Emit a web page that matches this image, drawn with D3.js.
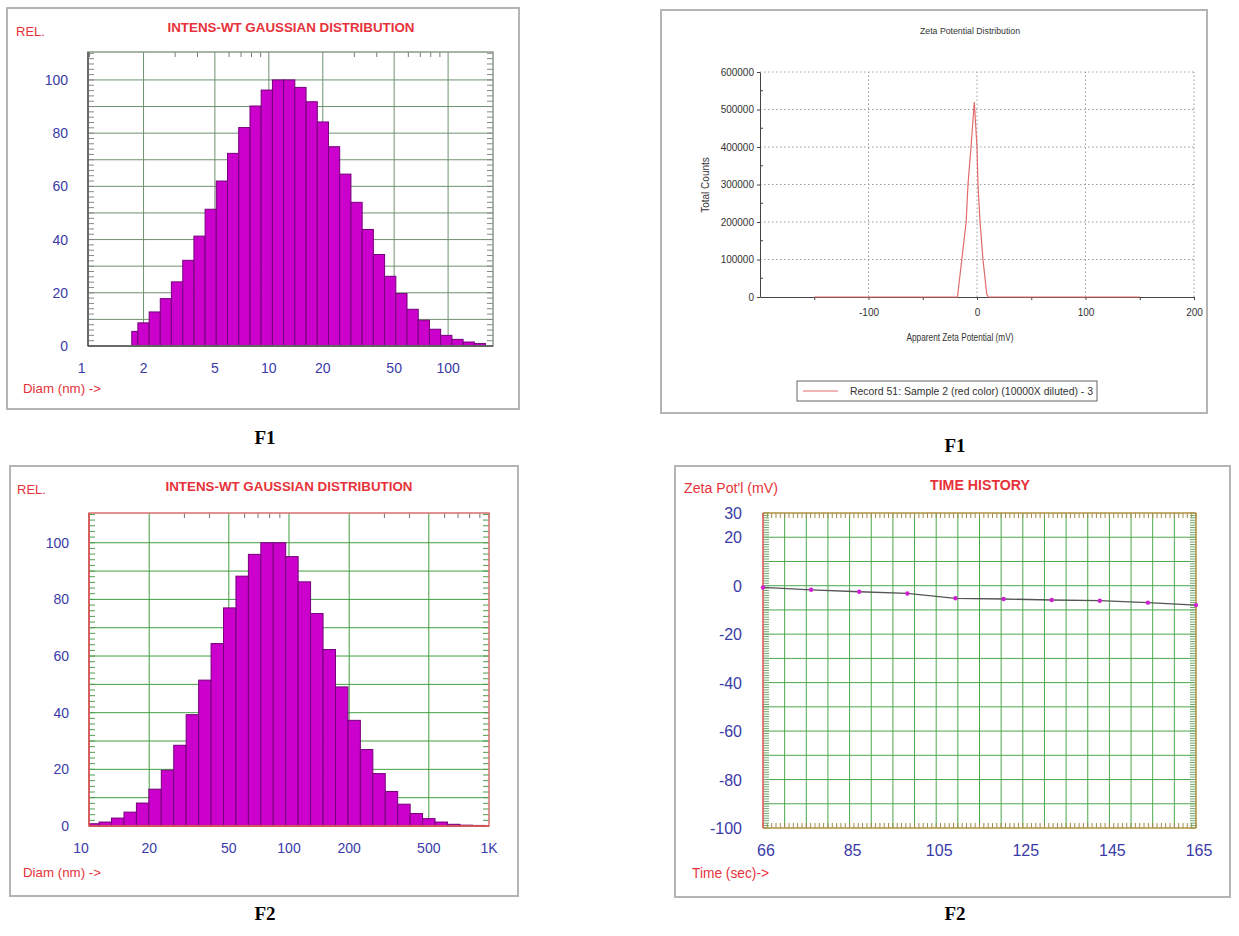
<!doctype html>
<html>
<head>
<meta charset="utf-8"/>
<title>Size and zeta potential</title>
<script src="https://d3js.org/d3.v7.min.js"></script>
<style>
body { margin:0; background:#fff; }
text { font-family: "Liberation Sans", Arial, sans-serif; }
</style>
</head>
<body>
<script>
// ---- F1 size distribution (bin edges in nm, relative intensity) ----
var f1Edges = [1.72, 1.86, 2.15, 2.48, 2.86, 3.31, 3.82, 4.41, 5.09, 5.88, 6.79, 7.85, 9.06, 10.47, 12.09, 13.96, 16.13,
  18.63, 21.51, 24.85, 28.70, 33.15, 38.29, 44.22, 51.08, 58.99, 68.14, 78.70, 90.90, 104.99, 121.26, 140.06, 161.77];
var f1Rel = [5.5, 8.7, 12.8, 17.8, 24.1, 32.2, 41.3, 51.4, 62.0, 72.4, 82.1, 90.2, 96.2, 100, 100, 97.2,
  91.8, 84.2, 74.9, 64.6, 54.0, 43.8, 34.4, 26.2, 19.7, 13.8, 9.7, 6.3, 4.0, 2.5, 1.5, 0.9];
var f1Ticks = [1, 2, 5, 10, 20, 50, 100];
var f1TickLabels = ["1", "2", "5", "10", "20", "50", "100"];
var f1Grid = [2, 5, 10, 20, 50, 100];

// ---- F2 size distribution ----
var f2Edges = [10.08, 11.23, 12.96, 14.96, 17.26, 19.92, 22.99, 26.53, 30.61, 35.33, 40.77, 47.05, 54.29, 62.66, 72.31, 83.44, 96.29,
  111.1, 128.2, 148.0, 170.8, 197.1, 227.4, 262.5, 302.9, 349.5, 403.4, 465.5, 537.2, 619.9, 715.4, 825.6, 952.7];
var f2Rel = [0.8, 1.4, 2.8, 4.9, 8.1, 13.0, 19.7, 28.5, 39.3, 51.5, 64.4, 77.0, 88.2, 95.9, 100, 100,
  95.1, 86.2, 75.0, 62.3, 49.1, 37.3, 27.0, 18.5, 12.2, 7.7, 4.4, 2.6, 1.4, 0.6, 0.3, 0.2];
var f2Ticks = [10, 20, 50, 100, 200, 500, 1000];
var f2TickLabels = ["10", "20", "50", "100", "200", "500", "1K"];
var f2Grid = [20, 50, 100, 200, 500];

var relTicks = [0, 20, 40, 60, 80, 100];

// ---- F1 zeta potential distribution ----
var zetaMv = [-150, -18, -14, -10, -8.3, -5.5, -2.5, 0, 0.9, 2.8, 5.5, 9, 10.5, 150];
var zetaCounts = [0, 0, 100000, 200000, 300000, 400000, 520000, 400000, 300000, 200000, 100000, 8000, 0, 0];
var zetaXTicks = [-100, 0, 100, 200];
var zetaYTicks = [0, 100000, 200000, 300000, 400000, 500000, 600000];

// ---- F2 time history ----
var histTime = [66, 77, 88, 99, 110, 121, 132, 143, 154, 165];
var histZeta = [-0.7, -1.7, -2.5, -3.2, -5.2, -5.5, -5.9, -6.2, -7.0, -8.0];
var histYTicks = [30, 20, 0, -20, -40, -60, -80, -100];
var histXLabels = ["66", "85", "105", "125", "145", "165"];

var RED = "#e8323a", BLUE = "#3a3aa8";

var svg = d3.select("body").append("svg")
  .attr("width", 1239).attr("height", 936)
  .style("background", "#fff");

function frameBox(x0, y0, x1, y1) {
  svg.append("rect")
    .attr("x", x0).attr("y", y0).attr("width", x1 - x0).attr("height", y1 - y0)
    .attr("fill", "#fff").attr("stroke", "#b4b4b4").attr("stroke-width", 2);
}

function line(g, x1, y1, x2, y2, col, w) {
  g.append("line").attr("x1", x1).attr("y1", y1).attr("x2", x2).attr("y2", y2)
    .attr("stroke", col).attr("stroke-width", w || 1);
}

function label(g, x, y, s, opt) {
  opt = opt || {};
  var t = g.append("text").attr("x", x).attr("y", y).text(s)
    .attr("font-size", opt.size || 13)
    .attr("fill", opt.color || "#000")
    .attr("text-anchor", opt.anchor || "start");
  if (opt.bold) t.attr("font-weight", "bold");
  if (opt.len) t.attr("textLength", opt.len).attr("lengthAdjust", "spacingAndGlyphs");
  if (opt.family) t.style("font-family", opt.family);
  return t;
}

// ---------- size distribution panel ----------
function sizePanel(p) {
  var g = svg.append("g");
  var x = d3.scaleLog().domain(p.domain).range([p.x0, p.x1]);
  var y = d3.scaleLinear().domain([0, 110.5]).range([p.y1, p.y0]);

  d3.range(10, 110, 10).forEach(function (v) { line(g, p.x0, y(v), p.x1, y(v), p.grid, 1); });
  p.gridX.forEach(function (v) { line(g, x(v), p.y0, x(v), p.y1, p.grid, 1); });

  // minor ticks
  d3.range(0, 111, 2).forEach(function (v) {
    line(g, p.x0, y(v), p.x0 + 6, y(v), p.tickCol, 1);
    line(g, p.x1 - 6, y(v), p.x1, y(v), p.tickCol, 1);
  });
  x.ticks().forEach(function (v) {
    if (p.gridX.indexOf(v) < 0) line(g, x(v), p.y0, x(v), p.y0 + 5, "#777", 1);
  });

  g.selectAll("rect.bar").data(p.rel).enter().append("rect")
    .attr("class", "bar")
    .attr("x", function (d, i) { return x(p.edges[i]); })
    .attr("width", function (d, i) { return x(p.edges[i + 1]) - x(p.edges[i]); })
    .attr("y", function (d) { return y(d); })
    .attr("height", function (d) { return y(0) - y(d); })
    .attr("fill", "#cc00cc").attr("stroke", "#74007a").attr("stroke-width", 1);

  g.append("rect").attr("x", p.x0).attr("y", p.y0).attr("width", p.x1 - p.x0).attr("height", p.y1 - p.y0)
    .attr("fill", "none").attr("stroke", p.frame).attr("stroke-width", 1.5);
  line(g, p.x0, p.y1, p.x1, p.y1, p.base, 1.5);
  line(g, p.x0, p.y0, p.x0, p.y1, p.base, 1.5);

  relTicks.forEach(function (v) {
    label(g, p.x0 - 20, y(v) + 5, v, {size: 14, color: BLUE, anchor: "end"});
  });
  p.ticks.forEach(function (v, i) {
    label(g, x(v) + (i === 0 ? -8 : 0), p.y1 + 27, p.tickLabels[i], {size: 14, color: BLUE, anchor: "middle"});
  });

  label(g, p.relX, p.relY, "REL.", {size: 13, color: RED});
  label(g, p.titleX, p.titleY, "INTENS-WT GAUSSIAN DISTRIBUTION",
    {size: 13, color: RED, bold: true, anchor: "middle", len: 247});
  label(g, 23, p.diamY, "Diam (nm) ->", {size: 13, color: RED, len: 78});
}

// ---------- frames ----------
frameBox(7, 8, 519, 409);
frameBox(661, 10, 1207, 413);
frameBox(10, 466, 518, 896);
frameBox(675, 466, 1230, 897);

sizePanel({
  x0: 88, x1: 493, y0: 52, y1: 346, domain: [0.98, 178],
  edges: f1Edges, rel: f1Rel, ticks: f1Ticks, tickLabels: f1TickLabels, gridX: f1Grid,
  grid: "#6f916f", tickCol: "#888", frame: "#8a9a8a", base: "#555",
  relX: 16, relY: 36, titleX: 291, titleY: 32, diamY: 393
});

sizePanel({
  x0: 89, x1: 489, y0: 513, y1: 826, domain: [10, 1000],
  edges: f2Edges, rel: f2Rel, ticks: f2Ticks, tickLabels: f2TickLabels, gridX: f2Grid,
  grid: "#3f9f3f", tickCol: "#4c9c4c", frame: "#d87070", base: "#d05050",
  relX: 17, relY: 494, titleX: 289, titleY: 491, diamY: 877
});

// ---------- zeta potential distribution ----------
(function () {
  var g = svg.append("g");
  var x = d3.scaleLinear().domain([-200, 200]).range([760, 1194]);
  var y = d3.scaleLinear().domain([0, 600000]).range([297, 72]);

  zetaYTicks.slice(1).forEach(function (v) {
    g.append("line").attr("x1", x(-200)).attr("x2", x(200)).attr("y1", y(v)).attr("y2", y(v))
      .attr("stroke", "#9a9a9a").attr("stroke-dasharray", "1.5,2.5");
  });
  zetaXTicks.forEach(function (v) {
    g.append("line").attr("x1", x(v)).attr("x2", x(v)).attr("y1", y(0)).attr("y2", y(600000))
      .attr("stroke", "#9a9a9a").attr("stroke-dasharray", "1.5,2.5");
  });

  var ay = g.append("g").attr("transform", "translate(" + x(-200) + ",0)")
    .call(d3.axisLeft(y).tickValues(zetaYTicks).tickSize(3).tickSizeOuter(0).tickFormat(d3.format("d")));
  var ax = g.append("g").attr("transform", "translate(0," + y(0) + ")")
    .call(d3.axisBottom(x).tickValues(d3.range(-150, 201, 50)).tickSize(3).tickSizeOuter(0)
      .tickFormat(function (d) { return zetaXTicks.indexOf(d) >= 0 ? d : ""; }));
  [ay, ax].forEach(function (a) {
    a.selectAll("path, line").attr("stroke", "#444");
    a.selectAll("text").attr("font-size", 10).attr("fill", "#333")
      .style("font-family", "Liberation Sans, Arial, sans-serif");
  });
  ax.selectAll("text").attr("dy", "1.3em");

  // minor ticks on y axis
  d3.range(50000, 600000, 100000).forEach(function (v) { line(g, x(-200), y(v), x(-200) + 3, y(v), "#444", 1); });

  var path = d3.line().x(function (d, i) { return x(zetaMv[i]); }).y(function (d) { return y(d); });
  g.append("path").datum(zetaCounts).attr("d", path)
    .attr("fill", "none").attr("stroke", "#e36a6a").attr("stroke-width", 1.2);

  label(g, 970, 34, "Zeta Potential Distribution", {size: 9.5, color: "#333", anchor: "middle", len: 100});
  label(g, 960, 341, "Apparent Zeta Potential (mV)", {size: 10, color: "#333", anchor: "middle", len: 107});
  label(g, 0, 0, "Total Counts", {size: 10, color: "#333", anchor: "middle"})
    .attr("transform", "translate(709,185) rotate(-90)");

  g.append("rect").attr("x", 797).attr("y", 381).attr("width", 300).attr("height", 20)
    .attr("fill", "#fff").attr("stroke", "#666").attr("stroke-width", 1);
  line(g, 803, 391, 838, 391, "#e36a6a", 1);
  label(g, 850, 395, "Record 51: Sample 2 (red color) (10000X diluted) - 3", {size: 10, color: "#333", len: 243});
})();

// ---------- time history ----------
(function () {
  var g = svg.append("g");
  var x = d3.scaleLinear().domain([66, 165]).range([763, 1196]);
  var y = d3.scaleLinear().domain([-100, 30]).range([828, 513]);
  var green = "#4aa84a";

  d3.range(1, 20).forEach(function (i) {
    var t = 66 + i * 99 / 20;
    line(g, x(t), y(30), x(t), y(-100), green, 1);
  });
  d3.range(-90, 30, 10).forEach(function (v) { line(g, x(66), y(v), x(165), y(v), green, 1); });

  // dense minor ticks on the frame
  d3.range(0, 101).forEach(function (i) {
    var t = 66 + i * 0.99;
    line(g, x(t), y(30), x(t), y(30) + 5, "#a08a4a", 1);
    line(g, x(t), y(-100), x(t), y(-100) - 5, "#a08a4a", 1);
  });
  d3.range(-100, 31, 1).forEach(function (v) {
    line(g, x(66), y(v), x(66) + 6, y(v), "#6aa86a", 1);
    line(g, x(165) - 6, y(v), x(165), y(v), "#6aa86a", 1);
  });

  line(g, x(66), y(30), x(165), y(30), "#b09040", 1.5);
  line(g, x(66), y(-100), x(165), y(-100), "#b09040", 1.5);
  line(g, x(165), y(30), x(165), y(-100), "#b09040", 1.5);
  line(g, x(66), y(30), x(66), y(-100), "#e05050", 1.5);

  g.append("path").datum(histZeta)
    .attr("d", d3.line().x(function (d, i) { return x(histTime[i]); }).y(function (d) { return y(d); }))
    .attr("fill", "none").attr("stroke", "#555").attr("stroke-width", 1.3);
  g.selectAll("circle.pt").data(histZeta).enter().append("circle")
    .attr("class", "pt")
    .attr("cx", function (d, i) { return x(histTime[i]); })
    .attr("cy", function (d) { return y(d); })
    .attr("r", 2.2).attr("fill", "#d020d0");

  histYTicks.forEach(function (v) {
    label(g, 742, y(v) + 6, v, {size: 16, color: BLUE, anchor: "end"});
  });
  histXLabels.forEach(function (s, i) {
    label(g, x(66 + i * 99 / 5) + 3, 856, s, {size: 16, color: BLUE, anchor: "middle"});
  });

  label(g, 684, 493, "Zeta Pot'l (mV)", {size: 14, color: RED, len: 94});
  label(g, 980, 490, "TIME HISTORY", {size: 14, color: RED, bold: true, anchor: "middle", len: 100});
  label(g, 692, 878, "Time (sec)->", {size: 14, color: RED, len: 77});
})();

// ---------- captions ----------
var serif = "Liberation Serif, Times New Roman, serif";
label(svg, 265, 444, "F1", {size: 19, bold: true, anchor: "middle", family: serif});
label(svg, 955, 452, "F1", {size: 19, bold: true, anchor: "middle", family: serif});
label(svg, 265, 920, "F2", {size: 19, bold: true, anchor: "middle", family: serif});
label(svg, 955, 920, "F2", {size: 19, bold: true, anchor: "middle", family: serif});
</script>
</body>
</html>
